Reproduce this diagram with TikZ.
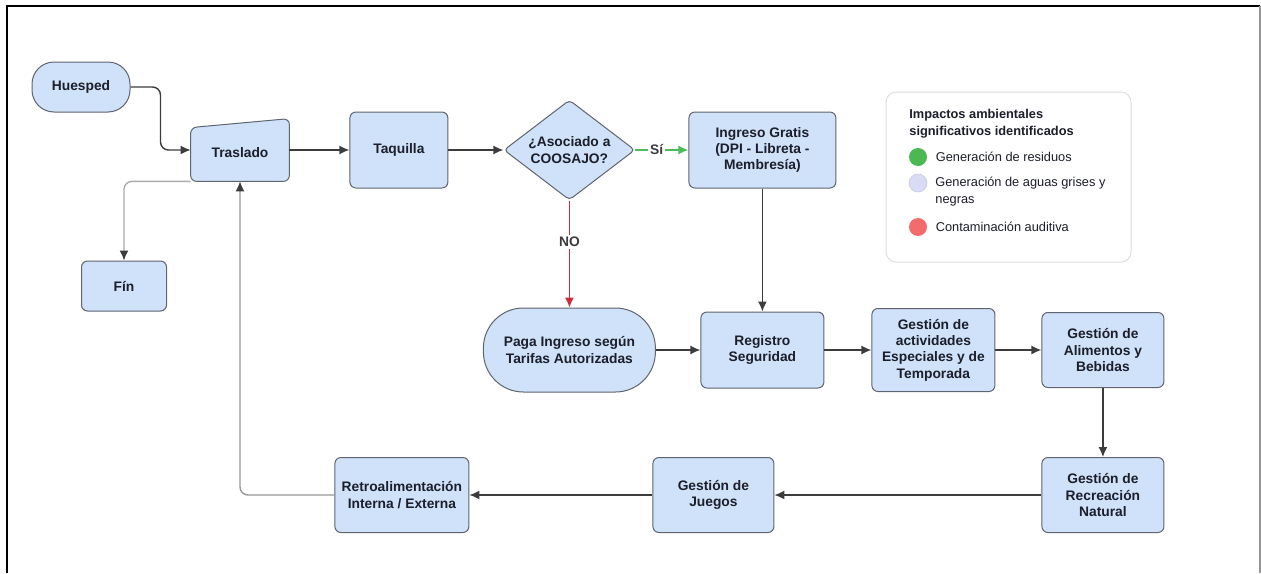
\documentclass[tikz,border=0pt]{standalone}
\usepackage{fontspec}
\setmainfont{Liberation Sans}
\usepackage{tikz}
\usetikzlibrary{positioning,shapes.geometric,arrows.meta}
\definecolor{boxblue}{RGB}{207,226,250}
\definecolor{boxline}{RGB}{95,100,110}
\definecolor{inkdark}{RGB}{28,30,42}
\definecolor{arrowdark}{RGB}{60,60,60}
\definecolor{yesgreen}{RGB}{76,187,90}
\definecolor{nored}{RGB}{201,45,57}
\definecolor{backgray}{RGB}{150,150,150}
\definecolor{legline}{RGB}{222,222,222}
\definecolor{dotgreen}{RGB}{76,184,82}
\definecolor{dotlilac}{RGB}{218,220,246}
\definecolor{dotred}{RGB}{242,108,108}
\newcommand{\boxfont}{\bfseries\fontsize{6.9}{8.2}\selectfont}
\newcommand{\legfont}{\fontsize{6.4}{8.5}\selectfont}
\tikzstyle{proc}=[%
      rectangle, rounded corners=3pt, draw=boxline, fill=boxblue, line width=0.5pt,
      text=inkdark, font=\boxfont, align=center, inner sep=2pt
]
\tikzstyle{term}=[%
      rectangle, rounded corners=11pt, draw=boxline, fill=boxblue, line width=0.5pt,
      text=inkdark, font=\boxfont, align=center, inner sep=2pt
]
\tikzstyle{decision}=[%
      diamond, aspect=1.3, rounded corners=2pt, draw=boxline, fill=boxblue, line width=0.5pt,
      text=inkdark, font=\boxfont, align=center, inner sep=0pt,
      minimum width=65.5pt, minimum height=50pt
]
\tikzstyle{flow}=[->, draw=arrowdark, line width=0.7pt]
\tikzstyle{back}=[-{Latex[length=5pt,width=4.5pt,color=arrowdark]}, draw=backgray,
      line width=0.7pt, rounded corners=4pt]
\tikzstyle{lbl}=[fill=white, inner sep=1pt, text=arrowdark, font=\boxfont]
\tikzstyle{legendbox}=[rectangle, rounded corners=5pt, draw=legline, fill=white, line width=0.5pt]
\tikzstyle{legdot}=[circle, minimum size=9pt, inner sep=0pt]
\tikzstyle{legtext}=[inner sep=0pt, text=inkdark, font=\legfont, align=left]

\begin{document}
\begin{tikzpicture}[x=0.5pt, y=-0.5pt,
    >={Latex[length=5pt,width=4.5pt]}
  ]
    \useasboundingbox (0,0) rectangle (1261,573);
    % frame
    \draw[line width=1.2pt] (1260,6) -- (7,6) -- (7,573);
    \draw[backgray, line width=0.6pt] (1260,6) -- (1260,573);

    % top row
    \node[term, minimum width=49pt, minimum height=25pt] (huesped) at (81,87) {Huesped};
    \node[inner sep=0pt, minimum width=49pt, minimum height=31pt] (traslado) at (240,150) {};
    \filldraw[draw=boxline, fill=boxblue, line width=0.5pt, rounded corners=3pt]
        (traslado.south west) -- (traslado.south east) -- (traslado.north east)
        -- ([yshift=-4.5pt]traslado.north west) -- cycle;
    \node[text=inkdark, font=\boxfont] (trasladolbl) at ([yshift=-1.5pt]traslado.center) {Traslado};
    \node[proc, minimum width=49pt, minimum height=38pt, right=30pt of traslado] (taquilla) {Taquilla};
    \node[decision, right=27.5pt of taquilla] (asociado) {¿Asociado a\\COOSAJO?};
    \node[proc, minimum width=73.5pt, minimum height=38pt, right=26.5pt of asociado] (ingreso)
        {Ingreso Gratis\\(DPI - Libreta -\\Membresía)};
    \node[proc, minimum width=42.5pt, minimum height=25pt] (fin) at (124,286) {Fín};

    % middle row
    \node[term, rounded corners=20pt, minimum width=86pt, minimum height=42pt, below=53.5pt of asociado] (paga)
        {Paga Ingreso según\\Tarifas Autorizadas};
    \node[proc, minimum width=61.5pt, minimum height=38pt, below=61.5pt of ingreso] (registro) {Registro\\Seguridad};
    \node[proc, minimum width=61.5pt, minimum height=41.5pt, right=23.5pt of registro] (actividades)
        {Gestión de\\actividades\\Especiales y de\\Temporada};
    \node[proc, minimum width=61pt, minimum height=37.5pt, right=23pt of actividades] (alimentos)
        {Gestión de\\Alimentos y\\Bebidas};

    % bottom row
    \node[proc, minimum width=61pt, minimum height=37.5pt, below=34.5pt of alimentos] (recreacion)
        {Gestión de\\Recreación\\Natural};
    \node[proc, minimum width=60.5pt, minimum height=37.5pt, left=133.5pt of recreacion] (juegos) {Gestión de\\Juegos};
    \node[proc, minimum width=67pt, minimum height=37.5pt, left=91.5pt of juegos] (retro)
        {Retroalimentación\\Interna / Externa};

    % legend
    \node[legendbox, minimum width=122.5pt, minimum height=85pt] (legend) at (1008.5,177) {};
    \node[legtext, font=\bfseries\legfont, anchor=north west] (legtitle) at (909,109)
        {Impactos ambientales\\significativos identificados};
    \node[legdot, fill=dotgreen] (dotres) at (918,157) {};
    \node[legtext, right=4pt of dotres] (txtres) {Generación de residuos};
    \node[legdot, fill=dotlilac, draw=dotlilac!80!gray, line width=0.3pt] (dotagua) at (918,183) {};
    \node[legtext, anchor=north west] (txtagua) at (935,177) {Generación de aguas grises y\\negras};
    \node[legdot, fill=dotred] (dotruido) at (918,227) {};
    \node[legtext, right=4pt of dotruido] (txtruido) {Contaminación auditiva};

    % connectors
    \draw[flow, rounded corners=4pt] (huesped.east) -- ++(30,0) |- (traslado.west);
    \draw[flow] (traslado.east) -- (taquilla.west);
    \draw[flow] (taquilla) -- (asociado);
    \draw[flow, draw=yesgreen] (asociado.east) -- node[lbl, pos=0.4] {Sí} (ingreso.west);
    \draw[flow, draw=nored] (asociado.south) -- node[lbl, pos=0.39] {NO} (paga.north);
    \draw[flow] (ingreso) -- (registro);
    \draw[flow] (paga) -- (registro);
    \draw[flow] (registro) -- (actividades);
    \draw[flow] (actividades) -- (alimentos);
    \draw[flow] (alimentos) -- (recreacion);
    \draw[flow] (recreacion) -- (juegos);
    \draw[flow] (juegos) -- (retro);
    \draw[back] (retro.west) -| (traslado.south);
    \draw[back, draw=backgray!80] (traslado.south west) -| (fin.north);
\end{tikzpicture}
\end{document}
